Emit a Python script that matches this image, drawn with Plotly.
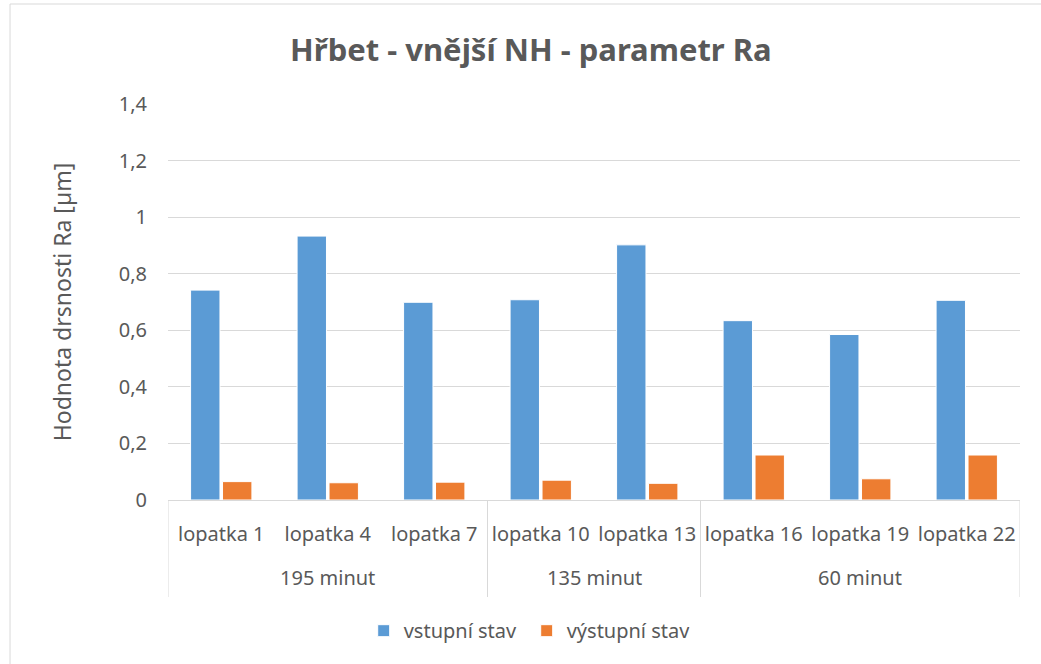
import plotly.graph_objects as go

# Roughness Ra of the blade back (outer NH), before and after processing
groups = ["195 minut", "135 minut", "60 minut"]
group_sizes = [3, 2, 3]
blades = ["lopatka 1", "lopatka 4", "lopatka 7",
          "lopatka 10", "lopatka 13",
          "lopatka 16", "lopatka 19", "lopatka 22"]
ra_input = [0.742, 0.933, 0.699, 0.708, 0.902, 0.634, 0.585, 0.706]
ra_output = [0.065, 0.061, 0.063, 0.070, 0.059, 0.159, 0.075, 0.159]

series_names = ["vstupní stav", "výstupní stav"]
y_ticks = [0, 0.2, 0.4, 0.6, 0.8, 1.0, 1.2, 1.4]

BLUE = "#5B9BD5"
ORANGE = "#ED7D31"
TEXT = "#595959"
GRID = "#D9D9D9"
FONT = "Noto Sans"
FS = 20

fig = go.Figure()
fig.add_trace(go.Bar(x=blades, y=ra_input, name=series_names[0],
                     marker=dict(color=BLUE, line=dict(color="white", width=1))))
fig.add_trace(go.Bar(x=blades, y=ra_output, name=series_names[1],
                     marker=dict(color=ORANGE, line=dict(color="white", width=1))))

fig.update_layout(
    width=1041, height=664,
    margin=dict(l=168, r=21, t=104, b=164),
    paper_bgcolor="white", plot_bgcolor="white",
    separators=", ",
    barmode="group", bargap=0.4, bargroupgap=0.08,
    font=dict(family=FONT, color=TEXT, size=FS),
    title=dict(text="<b>Hřbet - vnější NH - parametr Ra</b>",
               x=0.51, xanchor="center", y=0.925, yanchor="middle",
               font=dict(family=FONT, size=31, color=TEXT)),
    legend=dict(orientation="h", x=0.421, xanchor="center", y=-0.33, yanchor="middle",
                font=dict(size=FS, color=TEXT), itemwidth=30, traceorder="normal",
                entrywidth=118),
    showlegend=True,
)

fig.update_yaxes(range=[0, 1.4], tickvals=y_ticks, showgrid=True, gridcolor=GRID,
                 gridwidth=1, zeroline=False, showline=False,
                 ticklabelstandoff=20, tickfont=dict(size=FS, color=TEXT),
                 title=dict(text="Hodnota drsnosti Ra [µm]", standoff=40,
                            font=dict(size=23, color=TEXT)))
fig.update_xaxes(type="category", range=[-0.5, len(blades) - 0.5],
                 showline=True, linecolor=GRID, linewidth=1,
                 ticks="", ticklabelstandoff=16,
                 tickfont=dict(size=FS, color=TEXT))

# Outer group labels and the dividers between groups, placed from the group sizes
edges = [-0.5]
for n in group_sizes:
    edges.append(edges[-1] + n)
for x in edges:
    fig.add_shape(type="line", xref="x", yref="paper", x0=x, x1=x, y0=0, y1=-0.245,
                  line=dict(color=GRID, width=1))
for name, a, b in zip(groups, edges[:-1], edges[1:]):
    fig.add_annotation(text=name, xref="x", yref="paper", x=(a + b) / 2, y=-0.195,
                       showarrow=False, xanchor="center", yanchor="middle",
                       font=dict(size=FS, color=TEXT))

# Light border around the whole chart area
fig.add_shape(type="rect", xref="paper", yref="paper",
              x0=-0.1854, x1=1.2, y0=-0.6, y1=1.2525,
              line=dict(color=GRID, width=1), fillcolor="rgba(0,0,0,0)", layer="below")

fig.write_html("out.html")
